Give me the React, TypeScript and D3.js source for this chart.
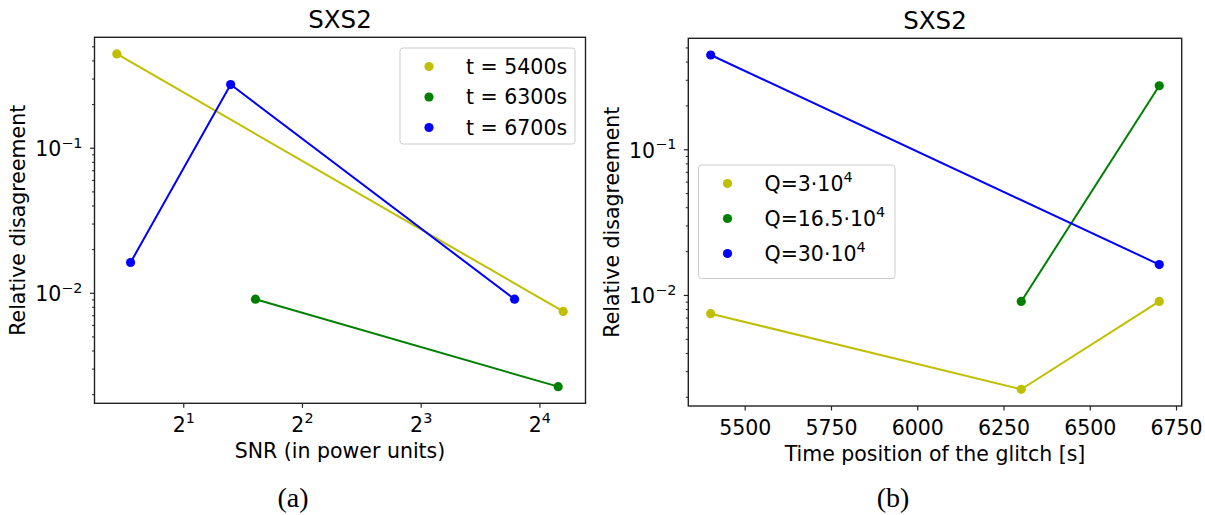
import React from 'react';
import * as d3 from 'd3';

// ---------- data ----------
const seriesColors = ['#bfbf00', '#008000', '#0000ff'];

// panel (a): relative disagreement vs SNR, one series per glitch time
const timeLabels = ['t = 5400s', 't = 6300s', 't = 6700s'];
const snrT5400 = [1.353, 18.33];
const disT5400 = [0.447, 0.0075];
const snrT6300 = [3.04, 17.8];
const disT6300 = [0.0091, 0.00227];
const snrT6700 = [1.466, 2.63, 13.8];
const disT6700 = [0.0163, 0.275, 0.0091];

// panel (b): relative disagreement vs time position, one series per Q
const qLabels = ['3', '16.5', '30'];
const timeQ3 = [5400, 6300, 6700];
const disQ3 = [0.0075, 0.00227, 0.0091];
const timeQ165 = [6300, 6700];
const disQ165 = [0.0091, 0.275];
const timeQ30 = [5400, 6700];
const disQ30 = [0.447, 0.0163];

const snrTicks = [2, 4, 8, 16];
const timeTicks = [5500, 5750, 6000, 6250, 6500, 6750];
const yMajorTicks = [0.01, 0.1];

const FONT = 'DejaVu Sans';
const FS = 20.5;

type Series = { xs: number[]; ys: number[]; color: string };

function logMarginDomain(vals: number[], base: number) {
  const l = vals.map((v) => Math.log(v) / Math.log(base));
  const lo = d3.min(l)!, hi = d3.max(l)!;
  const m = (hi - lo) * 0.05;
  return [Math.pow(base, lo - m), Math.pow(base, hi + m)];
}
function linMarginDomain(vals: number[]) {
  const lo = d3.min(vals)!, hi = d3.max(vals)!;
  const m = (hi - lo) * 0.05;
  return [lo - m, hi + m];
}

const allDis = [...disT5400, ...disT6300, ...disT6700];
const yDomain = logMarginDomain(allDis, 10);

function yMinorTicks(domain: number[]) {
  const out: number[] = [];
  for (let e = -4; e <= 1; e++) {
    for (let k = 2; k <= 9; k++) {
      const v = k * Math.pow(10, e);
      if (v >= domain[0] && v <= domain[1]) out.push(v);
    }
  }
  return out;
}

function Sup({ base, sup, ...rest }: any) {
  return (
    <text {...rest}>
      {base}
      <tspan dy={-8.5} fontSize={FS * 0.7}>{sup}</tspan>
    </text>
  );
}

type PanelProps = {
  x0: number; x1: number; y0: number; y1: number;
  xScale: any; yScale: any;
  series: Series[];
  xTicks: number[];
  xTickLabel: (v: number) => React.ReactNode;
  xLabel: string;
  yLabelX: number;
  legend: { x: number; y: number; w: number; h: number; rowH: number; labels: React.ReactNode[] };
  caption: string; captionX: number;
};

function Panel(p: PanelProps) {
  const { x0, x1, y0, y1, xScale, yScale } = p;
  const line = d3.line<[number, number]>().x((d) => xScale(d[0])).y((d) => yScale(d[1]));
  const minors = yMinorTicks(yScale.domain());
  const cx = (x0 + x1) / 2;
  return (
    <g fontFamily={FONT} fill="#000">
      {/* lines and points */}
      {p.series.map((s, i) => (
        <g key={i}>
          <path
            d={line(s.xs.map((x, j) => [x, s.ys[j]] as [number, number])) || ''}
            fill="none"
            stroke={s.color}
            strokeWidth={2}
          />
          {s.xs.map((x, j) => (
            <circle key={j} cx={xScale(x)} cy={yScale(s.ys[j])} r={4.6} fill={s.color} />
          ))}
        </g>
      ))}
      {/* frame */}
      <rect x={x0} y={y0} width={x1 - x0} height={y1 - y0} fill="none" stroke="#222" strokeWidth={1.4} />
      {/* y ticks */}
      {minors.map((v) => (
        <line key={'m' + v} x1={x0} x2={x0 - 2.5} y1={yScale(v)} y2={yScale(v)} stroke="#222" strokeWidth={1} />
      ))}
      {yMajorTicks.map((v) => (
        <g key={'M' + v}>
          <line x1={x0} x2={x0 - 4.5} y1={yScale(v)} y2={yScale(v)} stroke="#222" strokeWidth={1.2} />
          <Sup
            x={x0 - 12}
            y={yScale(v) + 8}
            textAnchor="end"
            fontSize={FS}
            base="10"
            sup={'\u2212' + Math.round(-Math.log10(v))}
          />
        </g>
      ))}
      {/* x ticks */}
      {p.xTicks.map((v) => (
        <g key={'x' + v}>
          <line x1={xScale(v)} x2={xScale(v)} y1={y1} y2={y1 + 4.5} stroke="#222" strokeWidth={1.2} />
          <g transform={`translate(${xScale(v)},${y1 + 28.5})`}>{p.xTickLabel(v)}</g>
        </g>
      ))}
      {/* labels */}
      <text x={cx} y={y1 + 54.5} textAnchor="middle" fontSize={FS}>{p.xLabel}</text>
      <text
        transform={`translate(${p.yLabelX},${(y0 + y1) / 2}) rotate(-90)`}
        textAnchor="middle"
        dominantBaseline="central"
        fontSize={FS}
      >
        Relative disagreement
      </text>
      <text x={cx} y={y0 - 9} textAnchor="middle" fontSize={24.5}>SXS2</text>
      {/* legend */}
      <rect
        x={p.legend.x}
        y={p.legend.y}
        width={p.legend.w}
        height={p.legend.h}
        rx={3}
        fill="#fff"
        fillOpacity={0.8}
        stroke="#cccccc"
        strokeWidth={1}
      />
      {p.legend.labels.map((lab, i) => {
        const ry = p.legend.y + 18.5 + i * p.legend.rowH;
        return (
          <g key={'l' + i}>
            <circle cx={p.legend.x + 29} cy={ry} r={4.6} fill={seriesColors[i]} />
            <g transform={`translate(${p.legend.x + 66},${ry + 7})`}>{lab}</g>
          </g>
        );
      })}
      <text x={p.captionX} y={507} textAnchor="middle" fontFamily="Liberation Serif" fontSize={28}>
        {p.caption}
      </text>
    </g>
  );
}

export default function App() {
  const L = { x0: 94.5, x1: 585.5, y0: 37.3, y1: 403.3 };
  const R = { x0: 688.3, x1: 1181.7, y0: 38.3, y1: 406 };

  const allSnr = [...snrT5400, ...snrT6300, ...snrT6700];
  const xL = d3.scaleLog().base(2).domain(logMarginDomain(allSnr, 2)).range([L.x0, L.x1]);
  const yL = d3.scaleLog().domain(yDomain).range([L.y1, L.y0]);

  const allTime = [...timeQ3, ...timeQ165, ...timeQ30];
  const xR = d3.scaleLinear().domain(linMarginDomain(allTime)).range([R.x0, R.x1]);
  const yR = d3.scaleLog().domain(yDomain).range([R.y1, R.y0]);

  const leftSeries: Series[] = [
    { xs: snrT5400, ys: disT5400, color: seriesColors[0] },
    { xs: snrT6300, ys: disT6300, color: seriesColors[1] },
    { xs: snrT6700, ys: disT6700, color: seriesColors[2] },
  ];
  const rightSeries: Series[] = [
    { xs: timeQ3, ys: disQ3, color: seriesColors[0] },
    { xs: timeQ165, ys: disQ165, color: seriesColors[1] },
    { xs: timeQ30, ys: disQ30, color: seriesColors[2] },
  ];

  return (
    <svg
      width={1205}
      height={515}
      viewBox="0 0 1205 515"
      style={{ position: 'absolute', left: 0, top: 0, background: '#fff' }}
    >
      <rect x={0} y={0} width={1205} height={515} fill="#fff" />
      <Panel
        {...L}
        xScale={xL}
        yScale={yL}
        series={leftSeries}
        xTicks={snrTicks}
        xTickLabel={(v) => (
          <Sup x={0} y={0} textAnchor="middle" fontSize={FS} base="2" sup={String(Math.round(Math.log2(v)))} />
        )}
        xLabel="SNR (in power units)"
        yLabelX={18}
        legend={{
          x: 400, y: 48, w: 175, h: 96, rowH: 30.5,
          labels: timeLabels.map((t) => <text fontSize={FS}>{t}</text>),
        }}
        caption="(a)"
        captionX={293}
      />
      <Panel
        {...R}
        xScale={xR}
        yScale={yR}
        series={rightSeries}
        xTicks={timeTicks}
        xTickLabel={(v) => <text textAnchor="middle" fontSize={FS}>{v}</text>}
        xLabel="Time position of the glitch [s]"
        yLabelX={612}
        legend={{
          x: 698.5, y: 165, w: 196.5, h: 113.5, rowH: 35,
          labels: qLabels.map((q) => <Sup x={0} y={0} fontSize={FS} base={'Q=' + q + '\u00b710'} sup="4" />),
        }}
        caption="(b)"
        captionX={893}
      />
    </svg>
  );
}
